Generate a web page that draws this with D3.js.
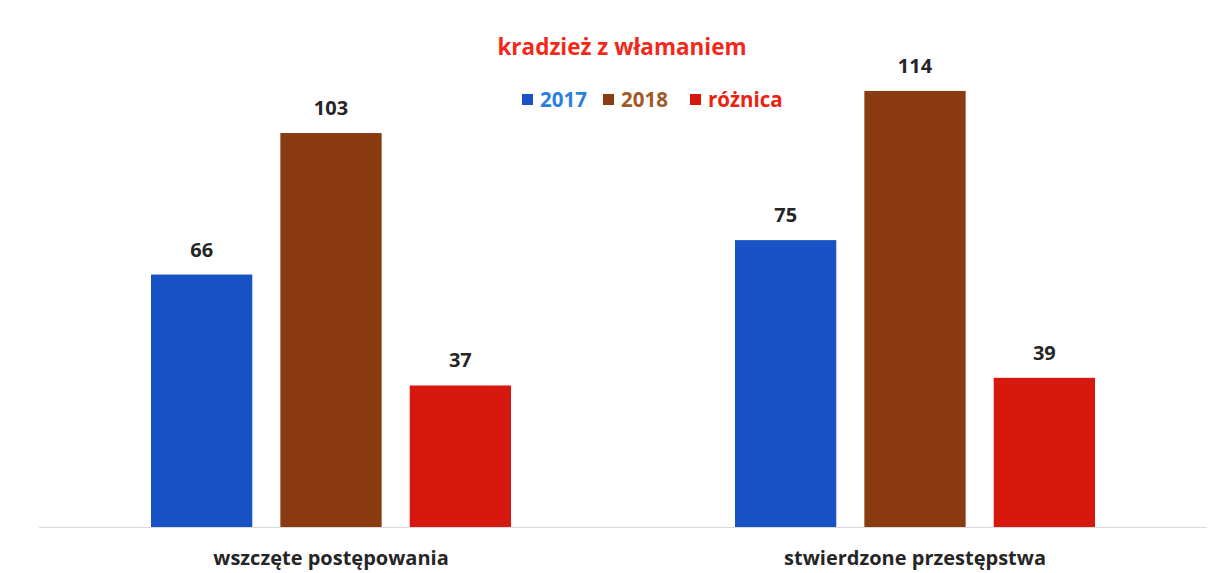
<!DOCTYPE html>
<html>
<head>
<meta charset="utf-8">
<script src="https://cdn.jsdelivr.net/npm/d3@7"></script>
<style>
  body { margin: 0; background: #fff; }
  svg { display: block; font-family: 'Open Sans', sans-serif; }
</style>
</head>
<body>
<div id="wrapper"></div>
<script>
/* DATA */
const title = 'kradzież z włamaniem';
const categories = ['wszczęte postępowania', 'stwierdzone przestępstwa'];
const seriesNames = ['2017', '2018', 'różnica'];
const values2017 = [66, 75];
const values2018 = [103, 114];
const valuesDiff = [37, 39];

const barColors = ['#1852c4', '#8a3b12', '#d6180f'];
const legendTextColors = ['#2a7fe0', '#a05a28', '#ee2010'];

function drawChart() {
  const dimensions = {
    width: 1221,
    height: 573,
    margin: { top: 68, right: 14, bottom: 46, left: 39 },
  };
  dimensions.boundedWidth =
    dimensions.width - (dimensions.margin.left + dimensions.margin.right);
  dimensions.boundedHeight =
    dimensions.height - (dimensions.margin.top + dimensions.margin.bottom);

  const dataset = categories.map((c, i) => ({
    category: c,
    values: [values2017[i], values2018[i], valuesDiff[i]],
  }));

  /* SCALES */
  const xScale = d3
    .scaleBand()
    .domain(categories)
    .range([0, dimensions.boundedWidth]);

  const innerScale = d3
    .scaleBand()
    .domain(seriesNames)
    .range([xScale.bandwidth() / 2 - 180, xScale.bandwidth() / 2 + 180])
    .paddingInner(0.217);

  const yScale = d3
    .scaleLinear()
    .domain([0, 120])
    .range([dimensions.boundedHeight, 0]);

  /* DRAW */
  const wrapper = d3
    .select('#wrapper')
    .append('svg')
    .attr('width', dimensions.width)
    .attr('height', dimensions.height);

  const bounds = wrapper
    .append('g')
    .attr('transform', `translate(${dimensions.margin.left},${dimensions.margin.top})`);

  // baseline
  bounds
    .append('line')
    .attr('x1', 0)
    .attr('x2', dimensions.boundedWidth)
    .attr('y1', yScale(0) + 0.5)
    .attr('y2', yScale(0) + 0.5)
    .attr('stroke', '#d9d9d9')
    .attr('stroke-width', 1);

  const groups = bounds
    .selectAll('g.cat')
    .data(dataset)
    .enter()
    .append('g')
    .attr('class', 'cat')
    .attr('transform', d => `translate(${xScale(d.category)},0)`);

  const bars = groups
    .selectAll('g.bar')
    .data(d => d.values.map((v, i) => ({ key: seriesNames[i], value: v, idx: i })))
    .enter()
    .append('g')
    .attr('class', 'bar');

  bars
    .append('rect')
    .attr('x', d => innerScale(d.key))
    .attr('width', innerScale.bandwidth())
    .attr('y', d => yScale(d.value))
    .attr('height', d => yScale(0) - yScale(d.value))
    .attr('fill', d => barColors[d.idx]);

  bars
    .append('text')
    .attr('x', d => innerScale(d.key) + innerScale.bandwidth() / 2)
    .attr('y', d => yScale(d.value) - 18)
    .attr('text-anchor', 'middle')
    .attr('fill', '#262626')
    .style('font-size', '20px')
    .style('font-weight', 'bold')
    .text(d => d.value);

  // category labels
  const xAxis = bounds
    .append('g')
    .attr('transform', `translate(0,${dimensions.boundedHeight})`)
    .call(d3.axisBottom(xScale).tickSize(0).tickPadding(0));
  xAxis.select('.domain').remove();
  xAxis
    .selectAll('text')
    .attr('y', 38)
    .attr('dy', 0)
    .attr('fill', '#262626')
    .style('font-family', "'Open Sans', sans-serif")
    .style('font-size', '20px')
    .style('font-weight', 'bold');

  // title
  wrapper
    .append('text')
    .attr('x', 622)
    .attr('y', 55)
    .attr('text-anchor', 'middle')
    .attr('fill', '#f2281a')
    .style('font-size', '22.5px')
    .style('font-weight', 'bold')
    .text(title);

  // legend
  const legendX = [522, 603, 690];
  const legend = wrapper
    .selectAll('g.legend')
    .data(seriesNames)
    .enter()
    .append('g')
    .attr('class', 'legend')
    .attr('transform', (d, i) => `translate(${legendX[i]},100)`);

  legend
    .append('rect')
    .attr('x', 0)
    .attr('y', -6)
    .attr('width', 11)
    .attr('height', 11)
    .attr('fill', (d, i) => barColors[i]);

  legend
    .append('text')
    .attr('x', 18)
    .attr('y', 7)
    .attr('fill', (d, i) => legendTextColors[i])
    .style('font-size', '20.5px')
    .style('font-weight', 'bold')
    .text(d => d);
}

drawChart();
</script>
</body>
</html>
